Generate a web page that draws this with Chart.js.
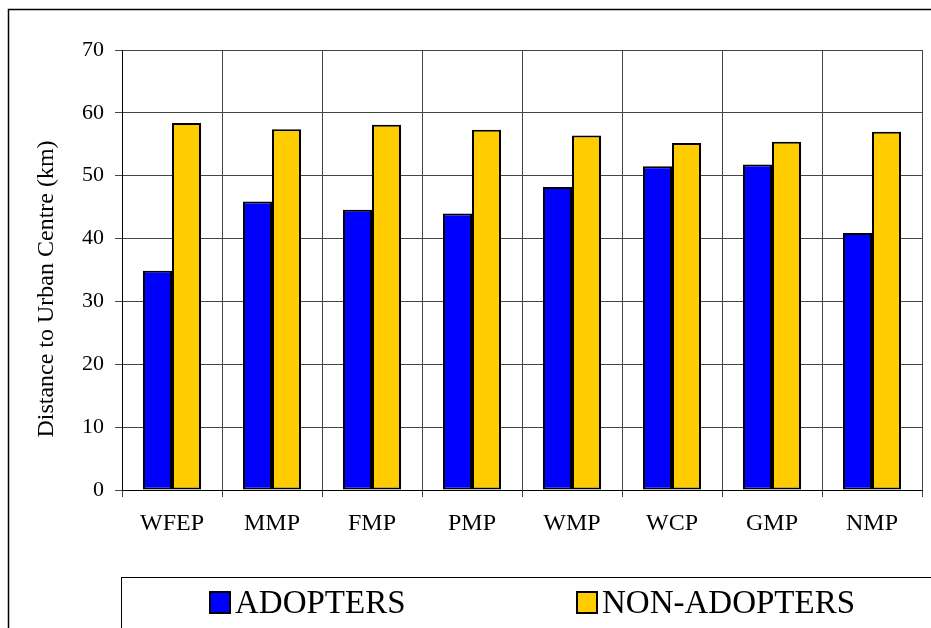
<!DOCTYPE html>
<html><head><meta charset="utf-8">
<script src="https://cdn.jsdelivr.net/npm/chart.js@4"></script>
<style>html,body{margin:0;padding:0;background:#fff}</style>
</head><body>
<canvas id="c" width="931" height="628"></canvas>
<script>
const categories = ['WFEP','MMP','FMP','PMP','WMP','WCP','GMP','NMP'];
const adopters = [34.9, 45.9, 44.6, 44.0, 48.2, 51.5, 51.8, 40.9];
const nonAdopters = [58.4, 57.4, 58.1, 57.3, 56.4, 55.2, 55.4, 57.0];
const seriesLabels = ['ADOPTERS', 'NON-ADOPTERS'];
const yTitle = 'Distance to Urban Centre (km)';
const yMin = 0, yMax = 70, yStep = 10;

const FONT = '"Liberation Serif", "Times New Roman", serif';

const framePlugin = {
  id: 'frame',
  afterDraw(chart) {
    const ctx = chart.ctx;
    ctx.save();
    // outer chart border
    ctx.strokeStyle = '#000';
    ctx.lineWidth = 1.5;
    ctx.strokeRect(8.5, 9.5, 2000, 2000);
    // y axis title
    ctx.save();
    ctx.translate(47, 289);
    ctx.rotate(-Math.PI / 2);
    ctx.font = '24px ' + FONT;
    ctx.fillStyle = '#000';
    ctx.textAlign = 'center';
    ctx.textBaseline = 'middle';
    ctx.fillText(yTitle, 0, 0);
    ctx.restore();
    // legend box
    ctx.lineWidth = 1;
    ctx.strokeRect(121.5, 577.5, 2000, 2000);
    // legend items
    const items = [{x: 210}, {x: 577}];
    ctx.font = '33px ' + FONT;
    ctx.textBaseline = 'middle';
    ctx.textAlign = 'left';
    chart.data.datasets.forEach((ds, i) => {
      const it = items[i];
      ctx.fillStyle = ds.backgroundColor;
      ctx.fillRect(it.x, 592, 20, 21);
      ctx.lineWidth = 2;
      ctx.strokeStyle = '#000';
      ctx.strokeRect(it.x, 592, 20, 21);
      ctx.fillStyle = '#000';
      ctx.fillText(ds.label, it.x + 25, 604);
    });
    ctx.restore();
  }
};

new Chart(document.getElementById('c'), {
  type: 'bar',
  data: {
    labels: categories,
    datasets: [
      { label: seriesLabels[0], data: adopters, backgroundColor: '#0000FF', borderColor: '#000', borderWidth: 2, borderSkipped: false },
      { label: seriesLabels[1], data: nonAdopters, backgroundColor: '#FFCC00', borderColor: '#000', borderWidth: 2, borderSkipped: false }
    ]
  },
  options: {
    responsive: false,
    animation: false,
    devicePixelRatio: 1,
    layout: { padding: { top: 50, right: 9, bottom: 98, left: 0 } },
    datasets: { bar: { categoryPercentage: 0.58, barPercentage: 1.0 } },
    plugins: { legend: { display: false }, tooltip: { enabled: false } },
    scales: {
      x: {
        afterFit(s) { s.height = 40; },
        grid: { color: '#444', lineWidth: 1, tickLength: 7, offset: true, tickColor: '#444' },
        border: { color: '#000', width: 1 },
        ticks: { color: '#000', font: { family: FONT, size: 24 }, padding: 12, maxRotation: 0 }
      },
      y: {
        min: yMin, max: yMax,
        afterFit(s) { s.width = 122; },
        grid: { color: '#444', lineWidth: 1, tickLength: 7, tickColor: '#444' },
        border: { color: '#000', width: 1 },
        ticks: { stepSize: yStep, color: '#000', font: { family: FONT, size: 22 }, padding: 11 },
        title: { display: false, text: yTitle }
      }
    }
  },
  plugins: [framePlugin]
});
</script>
</body></html>
